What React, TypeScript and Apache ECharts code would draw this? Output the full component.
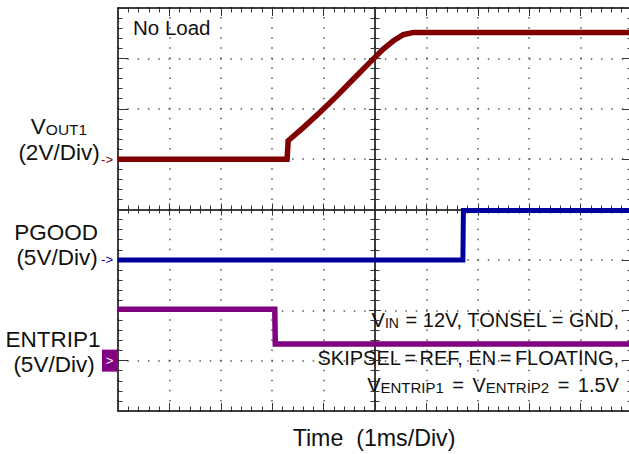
import React, { useEffect, useRef } from 'react';
import * as echarts from 'echarts';

// ---- data (time in ms, amplitude in volts) ----
const voutTime = [0, 3.29, 3.31, 3.61, 3.93, 4.26, 4.58, 4.9, 5.16, 5.36, 5.55, 5.75, 10];
const voutVolts = [0, 0, 0.73, 1.26, 1.86, 2.51, 3.18, 3.84, 4.37, 4.7, 4.94, 5.03, 5.03];
const pgoodTime = [0, 6.71, 6.72, 10];
const pgoodVolts = [0, 0, 4.9, 4.9];
const entripTime = [0, 3.05, 3.06, 10];
const entripVolts = [5.1, 5.1, 1.65, 1.65];

// channel settings: volts per division and ground level (divisions from bottom)
const channelNames = ['VOUT1', 'PGOOD', 'ENTRIP1'];
const channelColors = ['#800000', '#00009c', '#800080'];
const voltsPerDiv = [2, 5, 5];
const groundDiv = [5, 3, 1];

// screen: 10 x 8 divisions
const timeDivisions = [0, 10];
const ampDivisions = [0, 8];

const FONT = '"Liberation Sans", Arial, Helvetica, sans-serif';

function toDiv(times: number[], volts: number[], ch: number) {
  return times.map((t, i) => [t, groundDiv[ch] + volts[i] / voltsPerDiv[ch]]);
}

const none = { show: false };

function xAx(extra: any) {
  return {
    type: 'value',
    min: timeDivisions[0],
    max: timeDivisions[1],
    interval: 1,
    axisLabel: none,
    splitLine: none,
    axisLine: { show: false, onZero: false },
    axisTick: none,
    minorTick: none,
    ...extra,
  };
}
function yAx(extra: any) {
  return {
    type: 'value',
    min: ampDivisions[0],
    max: ampDivisions[1],
    interval: 1,
    axisLabel: none,
    splitLine: none,
    axisLine: { show: false, onZero: false },
    axisTick: none,
    minorTick: none,
    ...extra,
  };
}

const borderLine = { show: true, onZero: false, lineStyle: { color: '#000', width: 1.5 } };
const tickStyle = { color: '#333', width: 1 };

function txt(x: number, y: number, text: string, size: number, align: string, rich?: any) {
  return {
    type: 'text',
    x,
    y,
    silent: true,
    style: {
      text,
      fontSize: size,
      fontFamily: FONT,
      fill: '#111',
      textAlign: align,
      textVerticalAlign: 'middle',
      rich,
    },
  };
}

export default function App() {
  const ref = useRef<HTMLDivElement>(null);
  useEffect(() => {
    if (!ref.current) return;
    const chart = echarts.init(ref.current, undefined, { renderer: 'svg' });
    const sub = (size: number) => ({ fontSize: size, fontFamily: FONT, fill: '#111', verticalAlign: 'bottom' });
    const main = (size: number) => ({ fontSize: size, fontFamily: FONT, fill: '#111' });
    chart.setOption({
      animation: false,
      backgroundColor: '#fff',
      grid: { left: 118, top: 8, width: 514, height: 403, containLabel: false, outerBoundsMode: 'none' },
      xAxis: [
        xAx({
          position: 'bottom',
          axisLine: borderLine,
          axisTick: { show: true, inside: true, length: 8, lineStyle: tickStyle },
          minorTick: { show: true, splitNumber: 5, length: 4.5, lineStyle: tickStyle },
          splitLine: { show: true, lineStyle: { color: '#555', width: 1.5, type: [1.5, 8.575], dashOffset: 0.75 } },
        }),
        xAx({
          position: 'top',
          axisLine: borderLine,
          axisTick: { show: true, inside: true, length: 8, lineStyle: tickStyle },
          minorTick: { show: true, splitNumber: 5, length: 4.5, lineStyle: tickStyle },
        }),
        xAx({
          position: 'bottom',
          offset: -201.5,
          axisLine: borderLine,
          axisTick: { show: true, inside: false, length: 6, lineStyle: tickStyle },
          minorTick: { show: true, splitNumber: 5, length: 4, lineStyle: tickStyle },
        }),
        xAx({
          position: 'bottom',
          offset: -201.5,
          axisTick: { show: true, inside: true, length: 6, lineStyle: tickStyle },
          minorTick: { show: true, splitNumber: 5, length: 4, lineStyle: tickStyle },
        }),
      ],
      yAxis: [
        yAx({
          position: 'left',
          axisLine: borderLine,
          axisTick: { show: true, inside: true, length: 10, lineStyle: tickStyle },
          minorTick: { show: true, splitNumber: 5, length: 4.5, lineStyle: tickStyle },
          splitLine: { show: true, lineStyle: { color: '#555', width: 1.5, type: [1.5, 8.8], dashOffset: 0.75 } },
          axisLabel: {
            show: true,
            margin: 1,
            formatter: (v: number) =>
              v === groundDiv[0] ? '{r|->}' : v === groundDiv[1] ? '{b|->}' : v === groundDiv[2] ? '{p|>}' : '',
            rich: {
              r: { color: channelColors[0], fontSize: 13, fontFamily: FONT, padding: [0, 4, 0, 0] },
              b: { color: channelColors[1], fontSize: 13, fontFamily: FONT, padding: [0, 4, 0, 0] },
              p: {
                color: '#fff',
                backgroundColor: channelColors[2],
                fontSize: 13,
                fontFamily: FONT,
                width: 15,
                height: 22,
                lineHeight: 22,
                align: 'center',
              },
            },
          },
        }),
        yAx({
          position: 'right',
          axisLine: borderLine,
          axisTick: { show: true, inside: true, length: 10, lineStyle: tickStyle },
          minorTick: { show: true, splitNumber: 5, length: 4.5, lineStyle: tickStyle },
        }),
        yAx({
          position: 'left',
          offset: -257,
          axisLine: borderLine,
          axisTick: { show: true, inside: false, length: 6, lineStyle: tickStyle },
          minorTick: { show: true, splitNumber: 5, length: 4.5, lineStyle: tickStyle },
        }),
        yAx({
          position: 'left',
          offset: -257,
          axisTick: { show: true, inside: true, length: 6, lineStyle: tickStyle },
          minorTick: { show: true, splitNumber: 5, length: 4.5, lineStyle: tickStyle },
        }),
      ],
      series: [
        { t: voutTime, v: voutVolts, w: 5.5 },
        { t: pgoodTime, v: pgoodVolts, w: 5 },
        { t: entripTime, v: entripVolts, w: 5.5 },
      ].map((s, ch) => ({
        name: channelNames[ch],
        type: 'line',
        xAxisIndex: 0,
        yAxisIndex: 0,
        showSymbol: false,
        symbol: 'none',
        lineStyle: { color: channelColors[ch], width: s.w, join: 'miter' },
        data: toDiv(s.t, s.v, ch),
        z: 3 + ch,
      })),
      graphic: [
        txt(133, 27, 'No Load', 20.5, 'left'),
        txt(59, 126, '{v|V}{o|OUT1}', 22.5, 'center', { v: main(22.5), o: sub(15.5) }),
        txt(59, 152, '(2V/Div)', 22.5, 'center'),
        txt(56, 232, 'PGOOD', 22.5, 'center'),
        txt(57, 257, '(5V/Div)', 22.5, 'center'),
        txt(53, 339, 'ENTRIP1', 22.5, 'center'),
        txt(54, 364.5, '(5V/Div)', 22.5, 'center'),
        txt(374, 437.5, 'Time\u00A0 (1ms/Div)', 23.2, 'center'),
        txt(619, 320, '{m|V}{s|IN}{m| = 12V, TONSEL = GND,}', 20, 'right', { m: main(20), s: sub(14) }),
        txt(619, 358, '{m|SKIPSEL}{e|=}{m|REF, EN}{e|=}{m|FLOATING,}', 20, 'right', {
          m: main(20),
          e: { ...main(20), padding: [0, 3.5, 0, 3.5] },
        }),
        txt(619, 384.5, '{m|V}{s|ENTRIP1}{e|=}{m|V}{s|ENTRIP2}{e|=}{m|1.5V}', 20, 'right', {
          m: main(20),
          s: sub(15),
          e: { ...main(20), padding: [0, 8.5, 0, 8.5] },
        }),
      ],
    });
    return () => chart.dispose();
  }, []);
  return (
    <div
      ref={ref}
      style={{ position: 'absolute', left: 0, top: 0, width: 629, height: 454, background: '#fff' }}
    />
  );
}
